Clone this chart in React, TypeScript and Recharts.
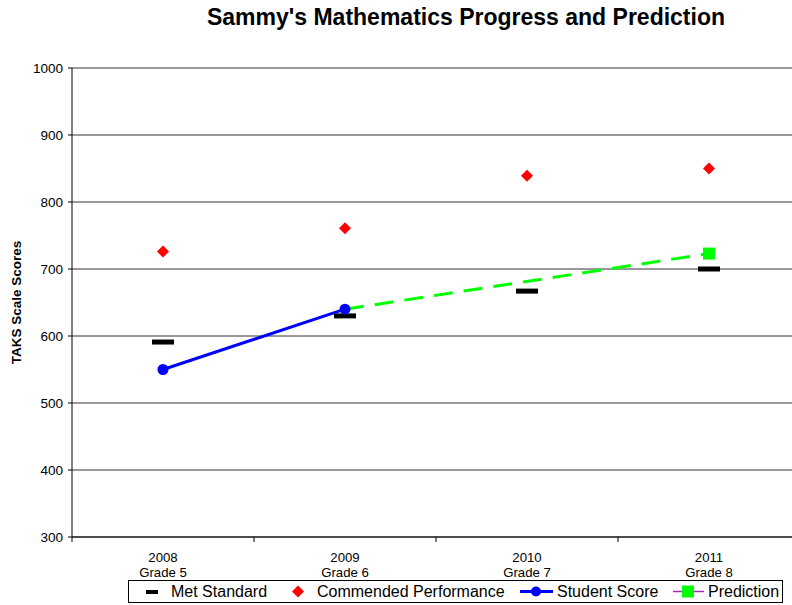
import React from "react";
import {
  ComposedChart,
  Line,
  XAxis,
  YAxis,
  CartesianGrid,
  Label,
} from "recharts";

const YEARS = ["2008", "2009", "2010", "2011"];
const GRADES = ["Grade 5", "Grade 6", "Grade 7", "Grade 8"];
const MET_STANDARD = [591, 630, 667, 700];
const COMMENDED = [726, 761, 839, 850];
const STUDENT_SCORE: (number | null)[] = [550, 640, null, null];
const PREDICTION: (number | null)[] = [null, 640, null, 723];
const Y_TICKS = [300, 400, 500, 600, 700, 800, 900, 1000];

const FONT = '"Liberation Sans", Arial, Helvetica, sans-serif';

const CHART_W = 800;
const CHART_H = 605;
const Y_AXIS_W = 72;
const X_AXIS_H = 68;
const TOP = 68;
const HALF_BAND = (CHART_W - Y_AXIS_W) / YEARS.length / 2;

const data = YEARS.map((year, i) => ({
  year,
  grade: GRADES[i],
  met: MET_STANDARD[i],
  commended: COMMENDED[i],
  student: STUDENT_SCORE[i],
  prediction: PREDICTION[i],
}));

function MetDot(props: any) {
  const { cx, cy, index } = props;
  if (cx == null || cy == null) return <g key={`m-${index}`} />;
  return <rect key={`m-${index}`} x={cx - 11} y={cy - 2.5} width={22} height={5} fill="#000" />;
}

function DiamondDot(props: any) {
  const { cx, cy, index } = props;
  if (cx == null || cy == null) return <g key={`d-${index}`} />;
  const r = 6;
  return (
    <path
      key={`d-${index}`}
      d={`M${cx},${cy - r}L${cx + r},${cy}L${cx},${cy + r}L${cx - r},${cy}Z`}
      fill="#ff0000"
    />
  );
}

function PredictionDot(props: any) {
  const { cx, cy, index, payload } = props;
  // the shared point is already marked by the student score circle
  if (cx == null || cy == null || payload.student != null) return <g key={`p-${index}`} />;
  return <rect key={`p-${index}`} x={cx - 6} y={cy - 6} width={12} height={12} fill="#00ff00" />;
}

function YearTick(props: any) {
  const { x, y, payload, index } = props;
  const last = index === YEARS.length - 1;
  return (
    <g>
      <line x1={x - HALF_BAND} y1={y} x2={x - HALF_BAND} y2={y + 5} stroke="#000" />
      {last && <line x1={x + HALF_BAND} y1={y} x2={x + HALF_BAND} y2={y + 5} stroke="#000" />}
      <text x={x} y={y} textAnchor="middle" fontSize={13.2} fill="#000" fontFamily={FONT}>
        <tspan x={x} dy={25}>{payload.value}</tspan>
        <tspan x={x} dy={14.5}>{GRADES[index]}</tspan>
      </text>
    </g>
  );
}

function LegendItem({ left, icon, text }: { left: number; icon: React.ReactNode; text: string }) {
  return (
    <div style={{ position: "absolute", left, top: 0, height: 21, display: "flex", alignItems: "center" }}>
      {icon}
      <span style={{ fontSize: 16, lineHeight: "21px", whiteSpace: "nowrap" }}>{text}</span>
    </div>
  );
}

function ChartLegend() {
  return (
    <div
      style={{
        position: "absolute",
        left: 128,
        top: 580,
        width: 655,
        height: 23,
        boxSizing: "border-box",
        border: "1px solid #000",
        background: "#fff",
        fontFamily: FONT,
        color: "#000",
      }}
    >
      <LegendItem
        left={16}
        text="Met Standard"
        icon={
          <svg width={26} height={21}>
            <rect x={1} y={9} width={12} height={4} fill="#000" />
          </svg>
        }
      />
      <LegendItem
        left={162}
        text="Commended Performance"
        icon={
          <svg width={26} height={21}>
            <path d="M7,4.5L13,10.5L7,16.5L1,10.5Z" fill="#ff0000" />
          </svg>
        }
      />
      <LegendItem
        left={390}
        text="Student Score"
        icon={
          <svg width={38} height={21}>
            <line x1={1} y1={10.5} x2={34} y2={10.5} stroke="#0000ff" strokeWidth={3} />
            <circle cx={17} cy={10.5} r={5} fill="#0000ff" />
          </svg>
        }
      />
      <LegendItem
        left={543}
        text="Prediction"
        icon={
          <svg width={36} height={21}>
            <line x1={1} y1={10.5} x2={32} y2={10.5} stroke="#9933aa" strokeWidth={1.5} />
            <rect x={10} y={4.5} width={12} height={12} fill="#00ff00" />
          </svg>
        }
      />
    </div>
  );
}

export default function App() {
  return (
    <div
      style={{
        position: "absolute",
        left: 0,
        top: 0,
        width: 792,
        height: 605,
        overflow: "hidden",
        background: "#fff",
        fontFamily: FONT,
      }}
    >
      <div
        style={{
          position: "absolute",
          left: 166,
          top: 5,
          width: 600,
          textAlign: "center",
          fontSize: 23,
          fontWeight: "bold",
          lineHeight: "24px",
          color: "#000",
        }}
      >
        Sammy's Mathematics Progress and Prediction
      </div>
      <ComposedChart
        width={CHART_W}
        height={CHART_H}
        data={data}
        margin={{ top: TOP, right: 0, bottom: 0, left: 0 }}
        style={{ position: "absolute", left: 0, top: 0 }}
      >
        <CartesianGrid vertical={false} stroke="#333" />
        <XAxis
          dataKey="year"
          scale="band"
          height={X_AXIS_H}
          axisLine={{ stroke: "#000" }}
          tickLine={false}
          tickSize={0}
          tickMargin={0}
          interval={0}
          tick={<YearTick />}
        />
        <YAxis
          width={Y_AXIS_W}
          domain={[300, 1000]}
          ticks={Y_TICKS}
          interval={0}
          axisLine={{ stroke: "#000" }}
          tickLine={{ stroke: "#000" }}
          tickSize={4}
          tickMargin={5}
          tick={{ fontSize: 13.5, fill: "#000", fontFamily: FONT }}
        >
          <Label
            content={(p: any) => {
              const vb = p.viewBox || {};
              const cy = (vb.y ?? TOP) + (vb.height ?? 469) / 2;
              return (
                <text
                  x={21}
                  y={cy}
                  transform={`rotate(-90, 21, ${cy})`}
                  textAnchor="middle"
                  fontSize={13.5}
                  fontWeight="bold"
                  fontFamily={FONT}
                  fill="#000"
                >
                  TAKS Scale Scores
                </text>
              );
            }}
          />
        </YAxis>
        <Line
          dataKey="met"
          stroke="none"
          dot={<MetDot />}
          activeDot={false}
          isAnimationActive={false}
          legendType="none"
        />
        <Line
          dataKey="commended"
          stroke="none"
          dot={<DiamondDot />}
          activeDot={false}
          isAnimationActive={false}
          legendType="none"
        />
        <Line
          dataKey="prediction"
          type="linear"
          stroke="#00ff00"
          strokeWidth={3}
          strokeDasharray="19 11"
          connectNulls
          dot={<PredictionDot />}
          activeDot={false}
          isAnimationActive={false}
          legendType="none"
        />
        <Line
          dataKey="student"
          type="linear"
          stroke="#0000ff"
          strokeWidth={3}
          dot={{ r: 5.5, fill: "#0000ff", stroke: "none" }}
          activeDot={false}
          isAnimationActive={false}
          legendType="none"
        />
      </ComposedChart>
      <ChartLegend />
    </div>
  );
}
